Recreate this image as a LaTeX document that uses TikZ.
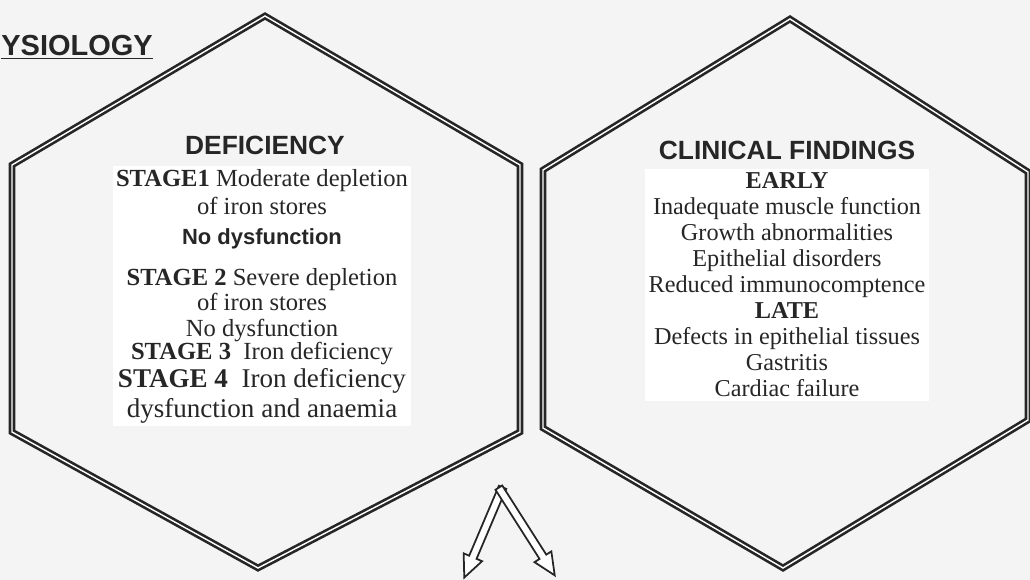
\documentclass[tikz,border=0pt]{standalone}
\usepackage{fontspec}
\setmainfont{Liberation Serif}
\setsansfont{Liberation Sans}
\usepackage{xcolor}
\usepackage{tikz}
\usetikzlibrary{calc}
\definecolor{scanpage}{HTML}{F4F4F4}
\definecolor{scanink}{HTML}{262626}
\tikzset{
  hexline/.style={draw=scanink,line width=1.5pt,double=white,double distance=0.8pt,line join=miter},
  hexhead/.style={font=\sffamily\bfseries\fontsize{15}{18}\selectfont,text=scanink,inner sep=1pt},
  hexbody/.style={align=center,text=scanink,fill=white,inner sep=2pt},
  hollowar/.style={draw=scanink,fill=white,line width=1pt,line join=miter},
}

\begin{document}
\begin{tikzpicture}[x=0.02cm,y=-0.02cm]
  \clip (0,0) rectangle (1030,580);
  \fill[scanpage] (0,0) rectangle (1030,580);
  \node[font=\sffamily\bfseries\fontsize{16.5}{20}\selectfont,text=scanink,anchor=base west,inner sep=0pt] (physio) at (1,56) {\underline{YSIOLOGY}};
  % the two hexagons
  \draw[hexline] (265,16) -- (520,165) -- (520,432) -- (258,568) -- (12,432) -- (12,165) -- cycle;
  \draw[hexline] (790,19) -- (1028,172) -- (1028,420) -- (783,568) -- (543,428) -- (543,170) -- cycle;
  \node[hexhead] (defhead) at (265,145) {DEFICIENCY};
  \node[hexbody,anchor=north,font=\fontsize{14}{14.5}\selectfont] (deftext) at (262,166)
    {\textbf{STAGE1} Moderate depletion\\[1pt]
     of iron stores\\[2.5pt]
     {\sffamily\bfseries\fontsize{12.5}{14}\selectfont No dysfunction}\\[9pt]
     \textbf{STAGE 2} Severe depletion\\
     of iron stores\\
     No dysfunction\\[-1pt]
     \textbf{STAGE 3}\ \ Iron deficiency\hspace*{14pt}\\[1pt]
     {\fontsize{15.4}{16}\selectfont\textbf{STAGE 4}\ \ Iron deficiency}\\[2.5pt]
     {\fontsize{15.4}{16}\selectfont dysfunction and anaemia}};
  \node[hexhead] (clinhead) at (787,150) {CLINICAL FINDINGS};
  \node[hexbody,anchor=north,font=\fontsize{13.8}{14.8}\selectfont] (clintext) at (787,169)
    {\textbf{EARLY}\\
     Inadequate muscle function\\
     Growth abnormalities\\
     Epithelial disorders\\
     Reduced immunocomptence\\
     \textbf{LATE}\\
     Defects in epithelial tissues\\
     Gastritis\\
     Cardiac failure};
  % hollow arrow pointing both ways below
  \begin{scope}[shift={(501,491)},rotate=-113]
    \draw[hollowar] (-4,4) -- (72,4) -- (72,10) -- (94,0) -- (72,-10) -- (72,-4) -- (-4,-4) -- cycle;
  \end{scope}
  \begin{scope}[shift={(501,491)},rotate=-57.5]
    \draw[hollowar] (-4,4) -- (78,4) -- (78,10) -- (100,0) -- (78,-10) -- (78,-4) -- (-4,-4) -- cycle;
  \end{scope}
\end{tikzpicture}
\end{document}
